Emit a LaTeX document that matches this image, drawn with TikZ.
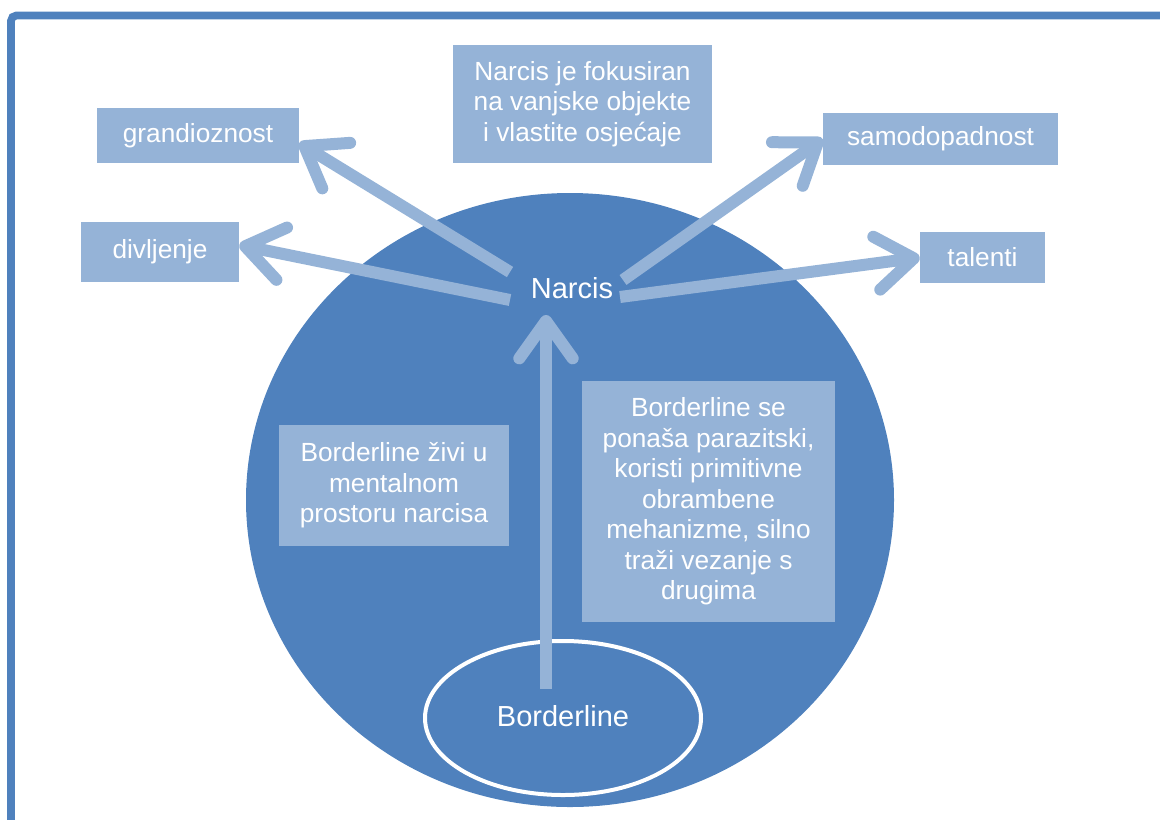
\documentclass[tikz,border=0pt]{standalone}
\usepackage{fontspec}
\setmainfont{Liberation Sans}
\usetikzlibrary{arrows.meta,shapes.geometric}
\definecolor{dblue}{HTML}{4F81BD}
\definecolor{lblue}{HTML}{95B3D7}
\begin{document}
\begin{tikzpicture}[x=0.75pt,y=-0.75pt,
  box/.style={fill=lblue, text=white, align=center, inner sep=0pt,
    font=\fontsize{19.7}{22.9}\selectfont},
  lbl/.style={text=white, inner sep=0pt, font=\fontsize{21.75}{24}\selectfont},
  arr/.style={draw=lblue, line width=9pt,
    -{Straight Barb[length=28pt,width=40pt,round]}}
]
\useasboundingbox (0,0) rectangle (1160,819);
\clip (0,0) rectangle (1160,819);
% frame
\draw[dblue, line width=5.8pt, rounded corners=4pt] (11,15.5) rectangle (1240,900);
% big circle
\fill[dblue] (570,500) ellipse [x radius=324, y radius=307];
% inner ellipse
\node[ellipse, draw=white, fill=dblue, line width=3pt, minimum width=207pt,
  minimum height=115.5pt, inner sep=0pt] (bl) at (563,718) {};
% boxes
\node[box, minimum width=151.5pt, minimum height=41.25pt] (grand) at (198,135.5) {grandioznost};
\node[box, minimum width=118.5pt, minimum height=45pt] (div) at (160,252) {divljenje};
\node[box, minimum width=194.25pt, minimum height=88.5pt] (focus) at (582.5,104)
  {Narcis je fokusiran\\na vanjske objekte\\i vlastite osjećaje};
\node[box, minimum width=176.25pt, minimum height=39pt] (samo) at (940.5,139) {samodopadnost};
\node[box, minimum width=93.75pt, minimum height=38.25pt] (tal) at (982.5,257.5) {talenti};
\node[box, minimum width=172.5pt, minimum height=90.75pt] (bzivi) at (394,485.5)
  {Borderline živi u\\mentalnom\\prostoru narcisa};
\node[box, minimum width=189.75pt, minimum height=180.75pt] (bpon) at (708.5,501.5)
  {Borderline se\\ponaša parazitski,\\koristi primitivne\\obrambene\\mehanizme, silno\\traži vezanje s\\drugima};
% labels
\node[lbl] (narcis) at (572,288) {Narcis};
\node[lbl] (bltext) at (563,716) {Borderline};
% arrow ends
\coordinate (n1) at (510,272);
\coordinate (n2) at (510,300);
\coordinate (n3) at (623,280);
\coordinate (n4) at (620,297);
\coordinate (vb) at (546,689);
\coordinate (vt) at (546,315);
% arrows
\draw[arr] (n1) -- ([yshift=-5.6pt]grand.east);
\draw[arr] (n2) -- ([yshift=5.2pt]div.east);
\draw[arr] (n3) -- (samo.west);
\draw[arr] (n4) -- (tal.west);
\draw[arr] (vb) -- (vt);
\end{tikzpicture}
\end{document}
